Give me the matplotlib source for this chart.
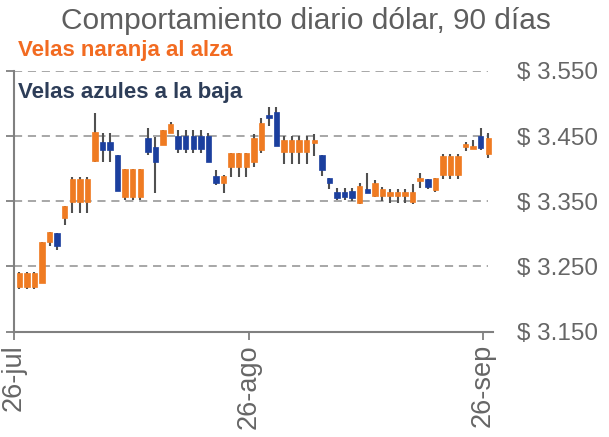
import numpy as np
import matplotlib
matplotlib.use("Agg")
import matplotlib.pyplot as plt

plt.rcParams['font.family'] = ['Liberation Sans', 'DejaVu Sans']

# daily candles, 25-jul .. 26-sep
opens = [3.1877, 3.2179, 3.2179, 3.2179, 3.2250, 3.2879, 3.3008, 3.3238,
         3.3492, 3.3492, 3.3492, 3.4121, 3.4403, 3.4403, 3.4209, 3.3569,
         3.3569, 3.3569, 3.4474, 3.4336, 3.4362, 3.4541, 3.4500, 3.4500,
         3.4500, 3.4500, 3.4505, 3.3887, 3.3775, 3.4020, 3.4020, 3.4020,
         3.4106, 3.4285, 3.4822, 3.4873, 3.4259, 3.4259, 3.4259, 3.4259,
         3.4388, 3.4209, 3.3851, 3.3646, 3.3646, 3.3656, 3.3477, 3.3687,
         3.3584, 3.3580, 3.3584, 3.3584, 3.3584, 3.3483, 3.3814, 3.3836,
         3.3672, 3.3902, 3.3902, 3.3902, 3.4327, 3.4296, 3.4500, 3.4224]
closes = [3.2184, 3.2403, 3.2403, 3.2403, 3.2879, 3.3032, 3.2817, 3.3426,
          3.3840, 3.3840, 3.3840, 3.4566, 3.4285, 3.4285, 3.3656, 3.3994,
          3.3994, 3.3994, 3.4250, 3.4097, 3.4592, 3.4684, 3.4296, 3.4296,
          3.4296, 3.4296, 3.4106, 3.3775, 3.3887, 3.4244, 3.4244, 3.4244,
          3.4474, 3.4695, 3.4771, 3.4347, 3.4439, 3.4439, 3.4439, 3.4439,
          3.4439, 3.3979, 3.3775, 3.3544, 3.3560, 3.3544, 3.3738, 3.3621,
          3.3775, 3.3687, 3.3637, 3.3637, 3.3637, 3.3646, 3.3860, 3.3722,
          3.3860, 3.4193, 3.4193, 3.4193, 3.4377, 3.4347, 3.4311, 3.4474]
highs = [3.2184, 3.2419, 3.2419, 3.2419, 3.2879, 3.3032, 3.3010, 3.3430,
         3.3867, 3.3867, 3.3867, 3.4848, 3.4541, 3.4541, 3.4209, 3.3994,
         3.3994, 3.3994, 3.4618, 3.4489, 3.4592, 3.4719, 3.4592, 3.4592,
         3.4592, 3.4592, 3.4551, 3.3979, 3.3900, 3.4244, 3.4244, 3.4244,
         3.4526, 3.4771, 3.4940, 3.4940, 3.4500, 3.4500, 3.4500, 3.4500,
         3.4526, 3.4209, 3.3855, 3.3698, 3.3698, 3.3698, 3.3784, 3.3928,
         3.3825, 3.3722, 3.3683, 3.3683, 3.3683, 3.3764, 3.3928, 3.3836,
         3.3860, 3.4219, 3.4219, 3.4219, 3.4413, 3.4439, 3.4618, 3.4541]
lows = [3.1877, 3.2149, 3.2149, 3.2149, 3.2250, 3.2817, 3.2752, 3.3135,
        3.3324, 3.3324, 3.3324, 3.4106, 3.4106, 3.4106, 3.3656, 3.3518,
        3.3518, 3.3518, 3.4209, 3.3621, 3.4362, 3.4541, 3.4244, 3.4244,
        3.4244, 3.4244, 3.4106, 3.3748, 3.3621, 3.3867, 3.3867, 3.3867,
        3.4029, 3.4235, 3.4653, 3.4347, 3.4071, 3.4071, 3.4071, 3.4071,
        3.4198, 3.3887, 3.3687, 3.3518, 3.3518, 3.3503, 3.3457, 3.3621,
        3.3569, 3.3508, 3.3468, 3.3468, 3.3468, 3.3457, 3.3698, 3.3683,
        3.3646, 3.3836, 3.3836, 3.3836, 3.4270, 3.4296, 3.4285, 3.4158]

date_labels = ["26-jul", "26-ago", "26-sep"]
price_ticks = [3.15, 3.25, 3.35, 3.45, 3.55]
price_labels = [r"\$ 3.150", r"\$ 3.250", r"\$ 3.350", r"\$ 3.450", r"\$ 3.550"]

orange = "#EF7B22"
blue = "#1B3F9E"

o = np.array(opens)
c = np.array(closes)
h = np.array(highs)
l = np.array(lows)
x = np.arange(len(o))
up = c >= o
cols = np.where(up, orange, blue)

fig = plt.figure(figsize=(6.09, 4.37), dpi=100)
ax = fig.add_axes([0.023, 0.241, 0.787, 0.597])

x0 = 0.3  # 26-jul
ax.set_xlim(x0, 63.66)
ax.set_ylim(3.15, 3.55)

ax.hlines(price_ticks[1:], x0, 63.0, colors="#A0A0A0", linewidth=1.3,
          linestyles=(0, (4.5, 3.2)), zorder=0)

ax.vlines(x, l, h, color="#505050", linewidth=1.5, zorder=1)
ax.bar(x, np.maximum(np.abs(c - o), 0.0008), bottom=np.minimum(o, c), width=0.72,
       color=cols, edgecolor=cols, linewidth=0.5, zorder=2)

for s in ["top", "right"]:
    ax.spines[s].set_visible(False)
for s in ["left", "bottom"]:
    ax.spines[s].set_color("#808080")
    ax.spines[s].set_linewidth(1.5)

ax.set_xticks([x0, x0 + 31, x0 + 62])
ax.set_xticklabels(date_labels, rotation=90, fontsize=19.5, color="#666666")
ax.set_yticks(price_ticks)
ax.set_yticklabels(price_labels, fontsize=17.5, color="#666666")
ax.tick_params(axis="x", direction="out", length=6, width=1.3, color="#808080", pad=3)
ax.tick_params(axis="y", left=True, right=False, labelleft=False, labelright=True,
               direction="out", length=6, width=1.3, color="#808080", pad=11)

fig.text(0.502, 0.953, "Comportamiento diario dólar, 90 días", ha="center", va="center",
         fontsize=21.5, color="#5E5E5E")
fig.text(0.030, 0.884, "Velas naranja al alza", ha="left", va="center",
         fontsize=16, fontweight="bold", color="#F26B21")
fig.text(0.030, 0.789, "Velas azules a la baja", ha="left", va="center",
         fontsize=16, fontweight="bold", color="#2D3D58")

fig.savefig("out.png", dpi=100)
